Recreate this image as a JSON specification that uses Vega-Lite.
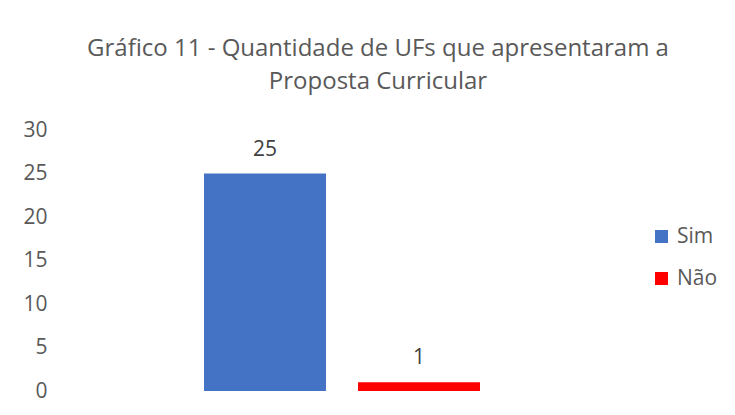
{
  "$schema": "https://vega.github.io/schema/vega-lite/v6.json",
  "autosize": "none",
  "width": 564,
  "height": 261,
  "padding": {"left": 60, "top": 130, "right": 111, "bottom": 24},
  "background": "white",
  "config": {"view": {"stroke": null}, "font": "Open Sans"},
  "title": {
    "text": ["Gráfico 11 - Quantidade de UFs que apresentaram a", "Proposta Curricular"],
    "anchor": "middle",
    "frame": "group",
    "fontSize": 24,
    "fontWeight": "normal",
    "color": "#595959",
    "font": "Open Sans",
    "lineHeight": 33,
    "dx": 36,
    "offset": 25
  },
  "data": {
    "values": [
      {"Resposta": "Sim", "Quantidade": 25},
      {"Resposta": "Não", "Quantidade": 1}
    ]
  },
  "encoding": {
    "x": {
      "field": "Resposta",
      "type": "nominal",
      "axis": null,
      "scale": {"domain": ["Sim", "Não"], "paddingInner": 0.208, "paddingOuter": 0.935}
    },
    "y": {
      "field": "Quantidade",
      "type": "quantitative",
      "scale": {"domain": [0, 30]},
      "axis": {
        "title": null,
        "values": [0, 5, 10, 15, 20, 25, 30],
        "grid": false,
        "domain": false,
        "ticks": false,
        "labelPadding": 13,
        "labelFontSize": 21,
        "labelColor": "#595959",
        "labelFont": "Open Sans"
      }
    }
  },
  "layer": [
    {
      "mark": {"type": "bar"},
      "encoding": {
        "color": {
          "field": "Resposta",
          "type": "nominal",
          "scale": {"domain": ["Sim", "Não"], "range": ["#4472C4", "#FF0000"]},
          "legend": {
            "title": null,
            "orient": "none",
            "legendX": 591,
            "legendY": 96,
            "symbolType": "square",
            "symbolSize": 169,
            "symbolStrokeWidth": 0,
            "labelFontSize": 21,
            "labelColor": "#595959",
            "labelFont": "Open Sans",
            "rowPadding": 20,
            "labelOffset": 5
          }
        }
      }
    },
    {
      "mark": {"type": "text", "baseline": "bottom", "dy": -14, "fontSize": 21, "color": "#404040", "font": "Open Sans"},
      "encoding": {"text": {"field": "Quantidade", "type": "quantitative"}}
    }
  ]
}
